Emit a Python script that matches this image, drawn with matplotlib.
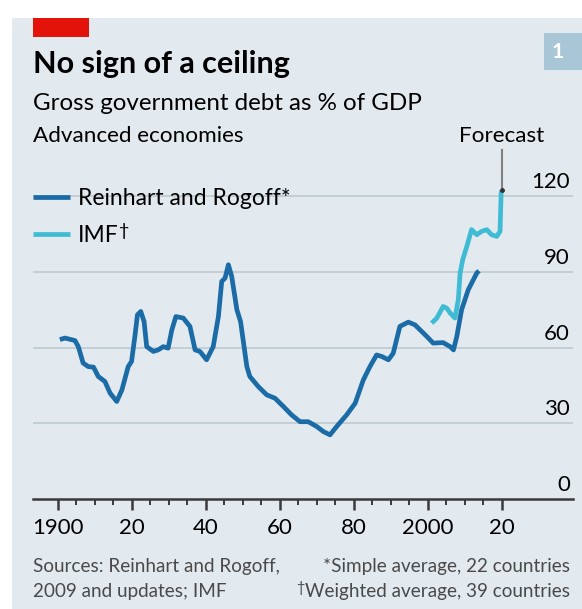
import matplotlib
matplotlib.use('Agg')
import matplotlib.pyplot as plt
from matplotlib.patches import Rectangle

plt.rcParams['font.family'] = ['Liberation Sans Narrow', 'Lato', 'DejaVu Sans']

# Reinhart and Rogoff, simple average (% of GDP)
rr_years = [1900.5, 1901.9, 1904.6, 1905.5, 1906.8, 1908.2, 1909.6, 1910.9, 1912.7, 1914.1,
            1915.9, 1917.3, 1919.0, 1919.9, 1920.8, 1921.5, 1922.4, 1923.3, 1924.0, 1925.8,
            1927.1, 1928.5, 1929.8, 1930.8, 1931.9, 1933.9, 1935.7, 1937.1, 1938.4, 1940.2,
            1942.0, 1943.4, 1944.3, 1945.2, 1946.1, 1947.0, 1948.4, 1949.4, 1951.1, 1951.9,
            1954.2, 1956.5, 1958.7, 1961.0, 1963.2, 1965.5, 1967.7, 1970.0, 1971.8, 1973.6,
            1975.4, 1978.1, 1980.4, 1982.6, 1984.4, 1986.2, 1987.6, 1989.4, 1990.7, 1992.5,
            1994.8, 1996.6, 1999.8, 2001.5, 2004.2, 2006.1, 2007.0, 2007.9, 2009.2, 2011.0,
            2013.3, 2013.9]
rr_debt = [63.2, 63.8, 62.8, 60.4, 53.9, 52.5, 52.3, 48.6, 46.6, 42.0,
           38.7, 43.3, 52.5, 54.5, 64.4, 73.0, 74.3, 70.3, 60.4, 58.5,
           59.1, 60.4, 59.8, 67.0, 72.3, 71.7, 68.4, 59.1, 58.5, 55.2,
           60.4, 72.3, 86.2, 87.5, 92.8, 88.2, 75.0, 70.3, 52.5, 48.6,
           44.6, 41.3, 40.0, 36.7, 33.4, 30.7, 30.7, 28.8, 26.8, 25.5,
           28.8, 33.4, 38.0, 47.2, 52.5, 57.1, 56.5, 55.2, 57.8, 68.4,
           70.1, 69.0, 64.4, 61.8, 62.0, 60.4, 59.1, 64.4, 75.0, 82.9,
           89.5, 90.4]

# IMF, weighted average (% of GDP), incl. forecast
imf_years = [2001.1, 2002.5, 2004.2, 2005.2, 2006.1, 2007.4, 2008.3, 2008.8, 2009.5, 2010.6,
             2011.9, 2013.3, 2014.6, 2016.0, 2017.3, 2018.7, 2019.6, 2019.9, 2020.0]
imf_debt = [69.7, 71.7, 76.3, 75.6, 73.7, 71.7, 78.9, 89.5, 94.8, 100.0,
            106.7, 104.7, 106.0, 106.7, 104.7, 104.0, 106.0, 121.2, 122.2]

x_ticks = [1900, 1920, 1940, 1960, 1980, 2000, 2020]
x_labels = ['1900', '20', '40', '60', '80', '2000', '20']
y_ticks = [0, 30, 60, 90, 120]

BG = '#e2eaf0'
DARK = '#1b6ca6'
LIGHT = '#3fbcd4'
GRID = '#bfc9d0'
AXIS = '#3a3a3a'
NOTE = '#4a4a4a'

W, H = 582, 609


def fx(x):
    return x / W


def fy(y):
    return 1 - y / H


fig = plt.figure(figsize=(W / 100, H / 100), dpi=100)
fig.patch.set_facecolor('white')
fig.patches.append(Rectangle((fx(11.7), 0), 1 - fx(11.7), fy(18.3), transform=fig.transFigure,
                             facecolor=BG, edgecolor='none', zorder=-2))
fig.patches.append(Rectangle((fx(33.3), fy(36.7)), fx(89.3) - fx(33.3), fy(18.3) - fy(36.7),
                             transform=fig.transFigure, facecolor='#e3120b', edgecolor='none', zorder=-1))
fig.patches.append(Rectangle((fx(544), fy(70)), fx(582) - fx(544), fy(32.7) - fy(70),
                             transform=fig.transFigure, facecolor='#a9c6d6', edgecolor='none', zorder=-1))
fig.text(fx(558), fy(51.5), '1', color='white', fontsize=15, fontweight='bold', ha='center', va='center')

fig.text(fx(33), fy(73.3), 'No sign of a ceiling', fontsize=22, fontweight='bold', ha='left', va='baseline')
fig.text(fx(33), fy(109.5), 'Gross government debt as % of GDP', fontsize=17.4, ha='left', va='baseline')
fig.text(fx(33), fy(142.5), 'Advanced economies', fontsize=16.2, ha='left', va='baseline')

ax = fig.add_axes([fx(33), fy(499.3), (573 - 33) / W, (499.3 - 150) / H])
ax.set_zorder(1)
ax.patch.set_alpha(0)
ax.set_xlim(1893.24, 2039.34)
ax.set_ylim(0, 138.2)

line_kw = dict(lw=3.4, solid_capstyle='butt', solid_joinstyle='round')
ax.plot(imf_years, imf_debt, color=LIGHT, label='IMF', zorder=3, **line_kw)
ax.plot(rr_years, rr_debt, color=DARK, label='Reinhart and Rogoff*', zorder=4, **line_kw)

# forecast marker
ax.plot([imf_years[-1], imf_years[-1]], [imf_debt[-1], 138.2], color='#808080', lw=1.5, zorder=2, clip_on=False)
ax.plot([imf_years[-1]], [imf_debt[-1]], 'o', color='#333333', ms=2.5, zorder=5)
ax.text(imf_years[-1], 141.5, 'Forecast', fontsize=16.2, ha='center', va='baseline')

for sp in ['top', 'left', 'right']:
    ax.spines[sp].set_visible(False)
ax.spines['bottom'].set_color(AXIS)
ax.spines['bottom'].set_linewidth(1.8)

ax.set_yticks(y_ticks[1:])
ax.tick_params(axis='y', length=0, labelleft=False)
ax.grid(axis='y', color=GRID, lw=1.2)
for v in y_ticks:
    ax.text(1.0 - 3 / 540, v + 1.6, str(v), transform=ax.get_yaxis_transform(), fontsize=16,
            ha='right', va='bottom')

ax.set_xticks(x_ticks)
ax.set_xticklabels(x_labels)
ax.set_xticks(range(1900, 2021, 5), minor=True)
ax.tick_params(axis='x', which='major', length=7.7, width=1.8, color=AXIS, pad=6, labelsize=16)
ax.tick_params(axis='x', which='minor', length=4.3, width=1.4, color=AXIS)

handles, labels = ax.get_legend_handles_labels()
leg = ax.legend(handles[::-1], labels[::-1], loc='upper left', bbox_to_anchor=(fx(33), fy(188)),
                bbox_transform=fig.transFigure, frameon=False, fontsize=16.5, handlelength=1.6,
                handletextpad=0.35, borderpad=0, borderaxespad=0, labelspacing=0.68)
leg.set_zorder(6)
ax.annotate('†', xy=(1, 1), xycoords=leg.get_texts()[1], fontsize=13, ha='left', va='top',
            xytext=(0.5, 1), textcoords='offset points', zorder=10)

fig.text(fx(33), fy(571.7), 'Sources: Reinhart and Rogoff,', fontsize=13.6, color=NOTE, va='baseline')
fig.text(fx(33), fy(596.7), '2009 and updates; IMF', fontsize=13.6, color=NOTE, va='baseline')
fig.text(fx(570), fy(571.7), '*Simple average, 22 countries', fontsize=13.6, color=NOTE,
         ha='right', va='baseline')
note = fig.text(fx(570), fy(596.7), 'Weighted average, 39 countries', fontsize=13.6, color=NOTE,
                ha='right', va='baseline')
fig.add_artist(plt.Annotation('†', xy=(0, 1), xycoords=note, fontsize=10.5, color=NOTE, ha='right', va='top',
                              xytext=(-0.5, 1), textcoords='offset points'))

fig.savefig('out.png', dpi=100, facecolor=fig.get_facecolor())
